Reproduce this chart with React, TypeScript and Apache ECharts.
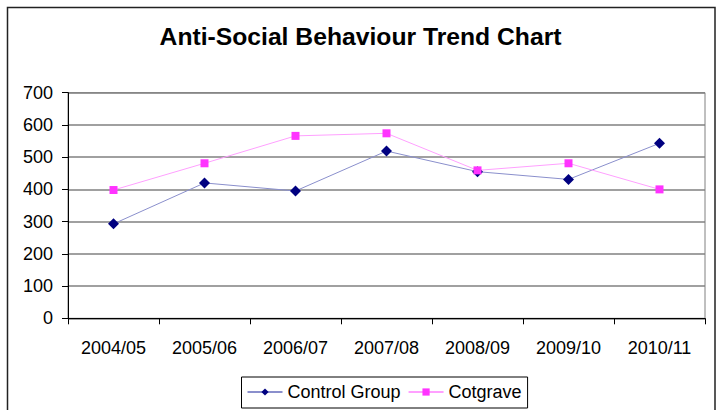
import React, { useEffect, useRef } from "react";
import * as echarts from "echarts";

const years = ["2004/05", "2005/06", "2006/07", "2007/08", "2008/09", "2009/10", "2010/11"];
const controlGroup = [293, 420, 395, 519, 455, 431, 543];
const cotgrave = [398, 481, 566, 574, 459, 481, 400];
const yTicks = { min: 0, max: 700, interval: 100 };

const FONT = "'Liberation Sans', Arial, sans-serif";

export default function App() {
  const ref = useRef<HTMLDivElement>(null);

  useEffect(() => {
    if (!ref.current) return;
    const chart = echarts.init(ref.current, undefined, { renderer: "svg" });
    chart.setOption({
      animation: false,
      backgroundColor: "#ffffff",
      textStyle: { fontFamily: FONT },
      title: {
        text: "Anti-Social Behaviour Trend Chart",
        left: "center",
        top: 24,
        padding: 0,
        textStyle: { fontFamily: FONT, fontSize: 24.7, fontWeight: "bold", color: "#000" },
      },
      graphic: [
        {
          type: "rect",
          shape: { x: 7.5, y: 7.5, width: 707.5, height: 420 },
          style: { fill: "none", stroke: "#222", lineWidth: 1.5 },
          z: 100,
        },
      ],
      legend: {
        left: 241.5,
        top: 377,
        orient: "horizontal",
        itemWidth: 35,
        itemHeight: 9,
        itemGap: 7,
        padding: [6, 6, 7, 5],
        borderColor: "#000",
        borderWidth: 1,
        textStyle: { fontFamily: FONT, fontSize: 18, color: "#000", padding: [1, 0, 0, 0] },
        data: ["Control Group", "Cotgrave"],
      },
      grid: {
        left: 68,
        right: 16,
        top: 92.7,
        bottom: 91.7,
        show: true,
        borderColor: "#808080",
        borderWidth: 1,
        containLabel: false,
      },
      xAxis: {
        type: "category",
        data: years,
        boundaryGap: true,
        axisLine: { show: true, lineStyle: { color: "#000", width: 1 } },
        axisTick: { show: true, length: 6, inside: false, alignWithLabel: false, lineStyle: { color: "#000" } },
        axisLabel: { fontFamily: FONT, fontSize: 18, color: "#000", margin: 21 },
        splitLine: { show: false },
      },
      yAxis: {
        type: "value",
        min: yTicks.min,
        max: yTicks.max,
        interval: yTicks.interval,
        axisLine: { show: true, lineStyle: { color: "#000", width: 1 } },
        axisTick: { show: true, length: 6, inside: false, lineStyle: { color: "#000" } },
        axisLabel: { fontFamily: FONT, fontSize: 18, color: "#000", margin: 15 },
        splitLine: { show: true, lineStyle: { color: "#808080", width: 1.5 } },
      },
      series: [
        {
          name: "Control Group",
          type: "line",
          data: controlGroup,
          symbol: "diamond",
          symbolSize: 11,
          itemStyle: { color: "#000080" },
          lineStyle: { color: "#8a8fcc", width: 1 },
        },
        {
          name: "Cotgrave",
          type: "line",
          data: cotgrave,
          symbol: "rect",
          symbolSize: 8,
          itemStyle: { color: "#ff33ff" },
          lineStyle: { color: "#ffa0ff", width: 1 },
        },
      ],
    });
    return () => chart.dispose();
  }, []);

  return (
    <div
      ref={ref}
      style={{ position: "fixed", left: 0, top: 0, width: 721, height: 410, background: "#fff" }}
    />
  );
}
